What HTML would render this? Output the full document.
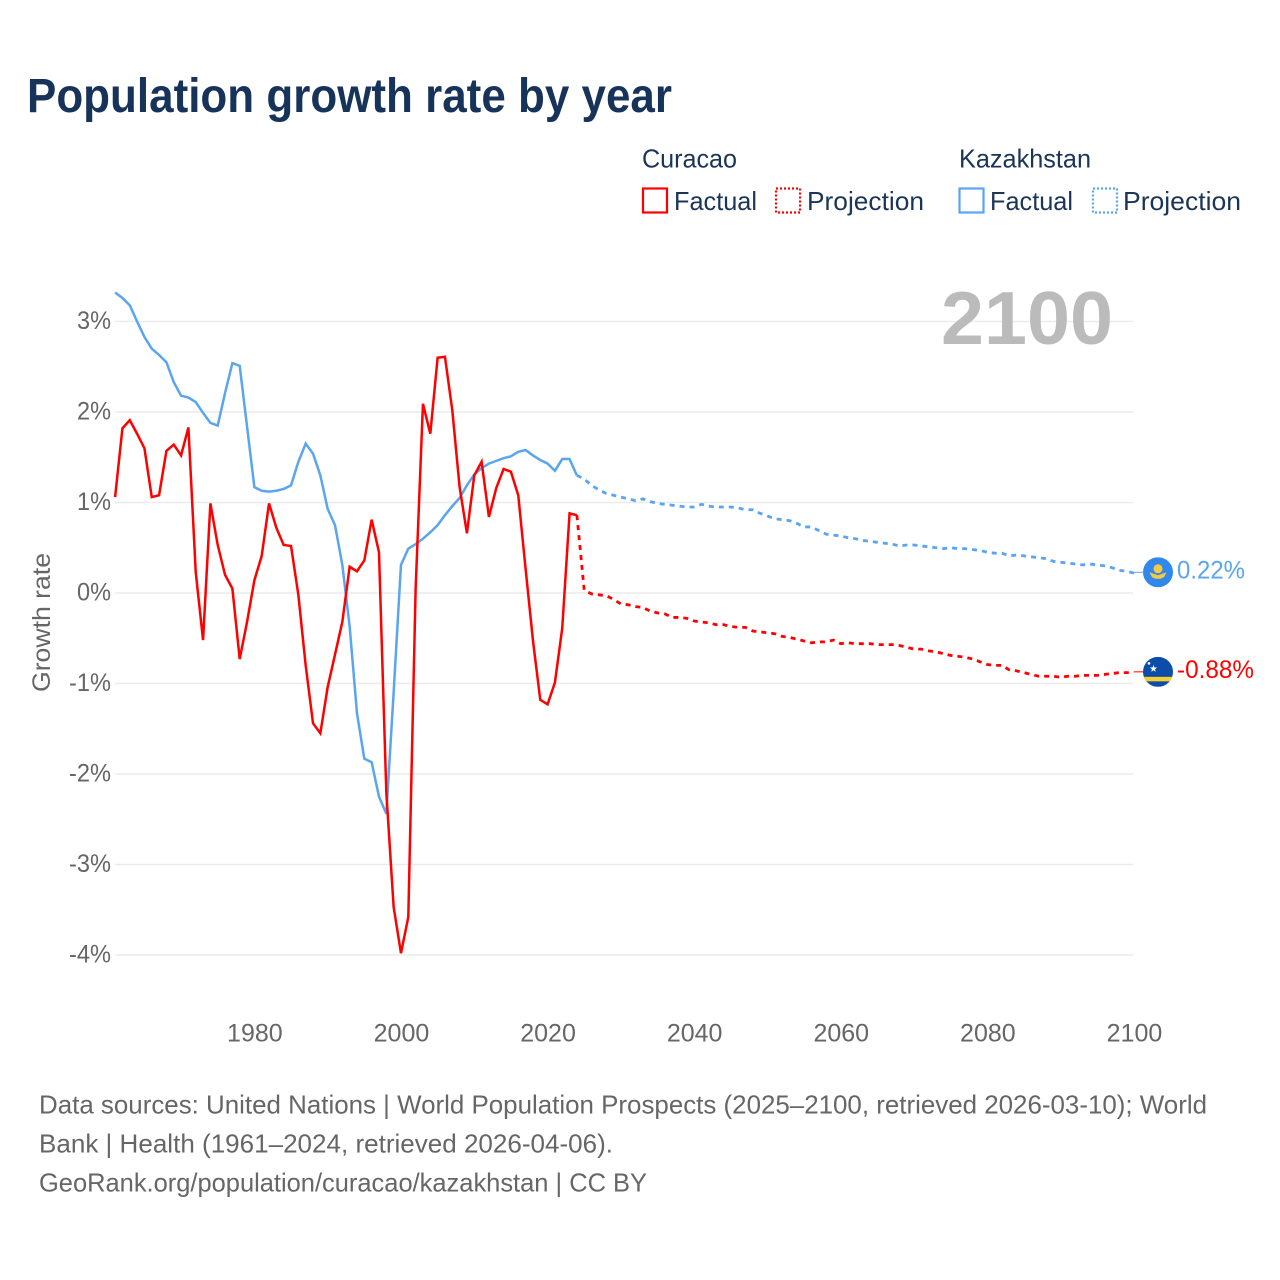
<!DOCTYPE html>
<html lang="en">
<head>
<meta charset="utf-8">
<title>Population growth rate by year</title>
<style>
html,body{margin:0;padding:0;background:#fff;}
svg{display:block;font-family:"Liberation Sans",sans-serif;}
.tick{font-size:25px;fill:#666;}
.legend{font-size:26px;fill:#1b3556;}
.foot{font-size:26px;fill:#666;}
</style>
</head>
<body>
<svg id="chart" xmlns="http://www.w3.org/2000/svg" width="1280" height="1280" viewBox="0 0 1280 1280">
  <defs>
    <clipPath id="flag-clip"><circle cx="0" cy="0" r="15"></circle></clipPath>
  </defs>
  <rect x="0" y="0" width="1280" height="1280" fill="#fff"></rect>
  <text x="27" y="112" font-size="48" font-weight="700" fill="#17335a" textLength="645" lengthAdjust="spacingAndGlyphs">Population growth rate by year</text>

  <g>
    <text class="legend" x="642" y="167.500" textLength="95" lengthAdjust="spacingAndGlyphs">Curacao</text>
    <text class="legend" x="959" y="167.500" textLength="132" lengthAdjust="spacingAndGlyphs">Kazakhstan</text>
    <rect x="643" y="188.500" width="24" height="24" fill="none" stroke="#ff0000" stroke-width="2.200"></rect>
    <text class="legend" x="674" y="210" textLength="83" lengthAdjust="spacingAndGlyphs">Factual</text>
    <rect x="776" y="188.500" width="24" height="24" fill="none" stroke="#ff0000" stroke-width="2.200" stroke-dasharray="2 2"></rect>
    <text class="legend" x="807" y="210" textLength="117" lengthAdjust="spacingAndGlyphs">Projection</text>
    <rect x="959.500" y="188.500" width="24" height="24" fill="none" stroke="#5aa5ef" stroke-width="2.200"></rect>
    <text class="legend" x="990" y="210" textLength="83" lengthAdjust="spacingAndGlyphs">Factual</text>
    <rect x="1093" y="188.500" width="24" height="24" fill="none" stroke="#5aa5ef" stroke-width="2.200" stroke-dasharray="2 2"></rect>
    <text class="legend" x="1123" y="210" textLength="118" lengthAdjust="spacingAndGlyphs">Projection</text>
  </g>

  <g id="grid"></g>
  <text x="941" y="344" font-size="75" font-weight="700" fill="#bbbbbb" textLength="172" lengthAdjust="spacingAndGlyphs">2100</text>
  <g id="y-ticks"></g>
  <g id="x-ticks"></g>
  <text class="tick" transform="translate(50,692) rotate(-90)" textLength="139" lengthAdjust="spacingAndGlyphs">Growth rate</text>
  <g id="series"></g>

  <g id="flag-kazakhstan">
    <g clip-path="url(#flag-clip)">
      <rect x="-15" y="-15" width="30" height="30" fill="#2f88ea"></rect>
      <circle cx="0" cy="-3.500" r="4.500" fill="#f6c945"></circle>
      <path d="M-8.500 0 L-3 2 L0 3 L3 2 L8.500 0 L6 5 L2.500 6.500 L-2.500 6.500 L-6 5 Z" fill="#f6c945"></path>
    </g>
  </g>
  <g id="flag-curacao">
    <g clip-path="url(#flag-clip)">
      <rect x="-15" y="-15" width="30" height="30" fill="#0b4da8"></rect>
      <rect x="-15" y="5" width="30" height="4.500" fill="#f8d02e"></rect>
      <polygon points="-4.500,-7 -3.600,-4.300 -0.800,-4.300 -3,-2.600 -2.200,0 -4.500,-1.600 -6.800,0 -6,-2.600 -8.200,-4.300 -5.400,-4.300" fill="#fff"></polygon>
      <circle cx="-9" cy="-8.500" r="1.300" fill="#fff"></circle>
    </g>
  </g>
  <g id="end-labels"></g>

  <g>
    <text class="foot" x="39" y="1113.500" textLength="1168" lengthAdjust="spacingAndGlyphs">Data sources: United Nations | World Population Prospects (2025–2100, retrieved 2026-03-10); World</text>
    <text class="foot" x="39" y="1152.500" textLength="574" lengthAdjust="spacingAndGlyphs">Bank | Health (1961–2024, retrieved 2026-04-06).</text>
    <text class="foot" x="39" y="1191.500" textLength="608" lengthAdjust="spacingAndGlyphs">GeoRank.org/population/curacao/kazakhstan | CC BY</text>
  </g>
</svg>
<script>
// Values in percent. Factual series start at 1961; projections start at 2024.
const yTickValues = [3, 2, 1, 0, -1, -2, -3, -4];
const yTickLabels = ["3%", "2%", "1%", "0%", "-1%", "-2%", "-3%", "-4%"];
const xTickValues = [1980, 2000, 2020, 2040, 2060, 2080, 2100];
const xTickLabels = ["1980", "2000", "2020", "2040", "2060", "2080", "2100"];
const factualStartYear = 1961;
const projectionStartYear = 2024;

const curacaoFactual = [
  1.06, 1.82, 1.91, 1.76, 1.60, 1.06, 1.08, 1.57, 1.64, 1.52,
  1.83, 0.23, -0.52, 0.99, 0.53, 0.20, 0.05, -0.73, -0.32, 0.14,
  0.41, 0.99, 0.72, 0.53, 0.52, -0.02, -0.80, -1.44, -1.55, -1.04,
  -0.68, -0.32, 0.29, 0.24, 0.36, 0.81, 0.45, -2.20, -3.47, -3.98,
  -3.58, 0.05, 2.09, 1.76, 2.60, 2.61, 2.02, 1.17, 0.66, 1.30,
  1.45, 0.84, 1.16, 1.37, 1.34, 1.08, 0.27, -0.52, -1.18, -1.23,
  -0.99, -0.39, 0.88, 0.86
];
const curacaoProjection = [
  0.86, 0.03, -0.01, -0.02, -0.03, -0.07, -0.12, -0.13, -0.15, -0.16, -0.20,
  -0.22, -0.23, -0.27, -0.27, -0.28, -0.31, -0.32, -0.33, -0.35, -0.35,
  -0.37, -0.38, -0.38, -0.42, -0.43, -0.44, -0.45, -0.48, -0.49, -0.51,
  -0.53, -0.55, -0.54, -0.54, -0.52, -0.56, -0.55, -0.56, -0.56, -0.56,
  -0.57, -0.57, -0.57, -0.58, -0.60, -0.62, -0.62, -0.64, -0.65, -0.67,
  -0.69, -0.70, -0.71, -0.73, -0.76, -0.79, -0.80, -0.80, -0.85, -0.86,
  -0.88, -0.90, -0.92, -0.92, -0.92, -0.93, -0.92, -0.92, -0.91, -0.91,
  -0.91, -0.90, -0.89, -0.88, -0.88, -0.88
];
const kazakhstanFactual = [
  3.32, 3.26, 3.18, 3.00, 2.83, 2.70, 2.63, 2.55, 2.33, 2.18,
  2.16, 2.11, 1.99, 1.88, 1.85, 2.21, 2.54, 2.51, 1.84, 1.17,
  1.13, 1.12, 1.13, 1.15, 1.19, 1.45, 1.65, 1.54, 1.30, 0.93,
  0.75, 0.31, -0.37, -1.33, -1.83, -1.87, -2.25, -2.44, -1.10, 0.31,
  0.49, 0.54, 0.60, 0.67, 0.75, 0.86, 0.96, 1.05, 1.19, 1.31,
  1.38, 1.43, 1.46, 1.49, 1.51, 1.56, 1.58, 1.52, 1.47, 1.43,
  1.35, 1.48, 1.48, 1.30
];
const kazakhstanProjection = [
  1.30, 1.26, 1.19, 1.14, 1.10, 1.08, 1.06, 1.04, 1.02, 1.04, 1.01,
  0.99, 0.98, 0.97, 0.96, 0.95, 0.95, 0.98, 0.96, 0.95, 0.95,
  0.95, 0.94, 0.92, 0.92, 0.88, 0.85, 0.82, 0.81, 0.80, 0.77,
  0.73, 0.73, 0.69, 0.65, 0.64, 0.63, 0.61, 0.60, 0.58, 0.57,
  0.56, 0.55, 0.54, 0.52, 0.53, 0.53, 0.52, 0.51, 0.50, 0.49,
  0.50, 0.49, 0.49, 0.48, 0.47, 0.45, 0.44, 0.44, 0.41, 0.42,
  0.41, 0.40, 0.39, 0.38, 0.35, 0.34, 0.33, 0.32, 0.31, 0.32,
  0.31, 0.30, 0.28, 0.25, 0.24, 0.22
];
const curacaoEndLabel = "-0.88%";
const kazakhstanEndLabel = "0.22%";

const SVG_NS = "http://www.w3.org/2000/svg";
const RED = "#ff0000";
const BLUE = "#5aa5ef";

function xScale(year) { return 115.1 + (year - 1961) * 7.33; }
function yScale(value) { return 593 - value * 90.5; }

function pathFor(values, startYear) {
  return values.map(function (v, i) {
    return (i ? "L" : "M") + xScale(startYear + i).toFixed(2) + " " + yScale(v).toFixed(2);
  }).join(" ");
}

const gridLayer = document.getElementById("grid");
const yTickLayer = document.getElementById("y-ticks");
yTickValues.forEach(function (v, i) {
  const line = document.createElementNS(SVG_NS, "line");
  
  
  line.setAttribute("x1", xScale(1961));
  line.setAttribute("x2", 1133);
  line.setAttribute("y1", yScale(v));
  line.setAttribute("y2", yScale(v));
  line.setAttribute("stroke", "#ebebeb");
  line.setAttribute("stroke-width", "1.5");
  gridLayer.appendChild(line);

  const label = document.createElementNS(SVG_NS, "text");
  
  
  label.setAttribute("class", "tick");
  label.setAttribute("x", 111);
  label.setAttribute("y", yScale(v) + 7.5);
  label.setAttribute("text-anchor", "end");
  label.setAttribute("textLength", yTickLabels[i].length === 2 ? 34 : 42);
  label.setAttribute("lengthAdjust", "spacingAndGlyphs");
  label.textContent = yTickLabels[i];
  yTickLayer.appendChild(label);
});

const xTickLayer = document.getElementById("x-ticks");
xTickValues.forEach(function (year, i) {
  const label = document.createElementNS(SVG_NS, "text");
  
  
  label.setAttribute("class", "tick");
  label.setAttribute("x", xScale(year) + 0.5);
  label.setAttribute("y", 1041.5);
  label.setAttribute("text-anchor", "middle");
  label.textContent = xTickLabels[i];
  xTickLayer.appendChild(label);
});

const seriesLayer = document.getElementById("series");

function addLine(name, values, startYear, color, dashed) {
  const path = document.createElementNS(SVG_NS, "path");
  
  
  path.setAttribute("d", pathFor(values, startYear));
  path.setAttribute("fill", "none");
  path.setAttribute("stroke", color);
  path.setAttribute("stroke-width", dashed ? "2.800" : "2.500");
  path.setAttribute("stroke-linejoin", "miter");
  if (dashed) {
    path.setAttribute("stroke-dasharray", "5 5");
  }
  seriesLayer.appendChild(path);
}

addLine("kazakhstan-factual-line", kazakhstanFactual, factualStartYear, BLUE, false);
addLine("kazakhstan-projection-line", kazakhstanProjection, projectionStartYear, BLUE, true);
addLine("curacao-factual-line", curacaoFactual, factualStartYear, RED, false);
addLine("curacao-projection-line", curacaoProjection, projectionStartYear, RED, true);

const endLabelLayer = document.getElementById("end-labels");

function addEnd(flagId, values, color, text, connectorName, labelName, labelWidth) {
  const y = yScale(values[values.length - 1]) - 0.8;
  document.getElementById(flagId).setAttribute("transform", "translate(1158," + y.toFixed(2) + ")");

  const connector = document.createElementNS(SVG_NS, "line");
  
  
  connector.setAttribute("x1", xScale(2100));
  connector.setAttribute("x2", 1144);
  connector.setAttribute("y1", y);
  connector.setAttribute("y2", y);
  connector.setAttribute("stroke", color);
  connector.setAttribute("stroke-width", "1");
  endLabelLayer.appendChild(connector);

  const label = document.createElementNS(SVG_NS, "text");
  
  
  label.setAttribute("x", 1177);
  label.setAttribute("y", y + 6);
  label.setAttribute("font-size", "25");
  label.setAttribute("fill", color);
  label.setAttribute("textLength", labelWidth);
  label.setAttribute("lengthAdjust", "spacingAndGlyphs");
  label.textContent = text;
  endLabelLayer.appendChild(label);
}

addEnd("flag-kazakhstan", kazakhstanProjection, BLUE, kazakhstanEndLabel, "kazakhstan-end-connector", "kazakhstan-end-value", 68);
addEnd("flag-curacao", curacaoProjection, RED, curacaoEndLabel, "curacao-end-connector", "curacao-end-value", 77);
</script>
</body>
</html>
